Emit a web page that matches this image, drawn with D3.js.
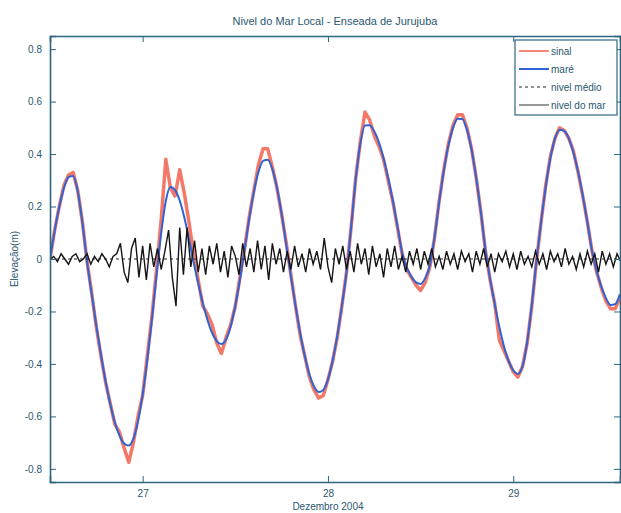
<!DOCTYPE html>
<html>
<head>
<meta charset="utf-8">
<script src="https://cdn.jsdelivr.net/npm/d3@7"></script>
<style>
    body { margin: 0; background: #ffffff; }
    svg { display: block; font-family: "Liberation Sans", Arial, sans-serif; }
</style>
</head>
<body>
<div id="wrapper"></div>
<script>

// both tide and signal are read on a 0.025 day grid starting at 26.5 (124 samples)
const gridStart = 26.5;
const gridStep = 0.025;

// maré (fitted tide)
const tideValues = [
    0.000, 0.106, 0.199, 0.270, 0.312, 0.316, 0.257, 0.138, -0.010, -0.134,
    -0.254, -0.365, -0.466, -0.553, -0.622, -0.673, -0.703, -0.711, -0.685, -0.619,
    -0.517, -0.385, -0.230, -0.062, 0.098, 0.221, 0.274, 0.263, 0.223, 0.158,
    0.076, -0.013, -0.094, -0.169, -0.233, -0.282, -0.313, -0.324, -0.307, -0.257,
    -0.177, -0.078, 0.034, 0.153, 0.255, 0.332, 0.374, 0.378, 0.342, 0.271,
    0.172, 0.054, -0.065, -0.178, -0.282, -0.370, -0.440, -0.486, -0.507, -0.499,
    -0.459, -0.389, -0.294, -0.179, -0.052, 0.121, 0.305, 0.441, 0.509, 0.510,
    0.487, 0.445, 0.384, 0.309, 0.222, 0.126, 0.025, -0.031, -0.067, -0.089,
    -0.095, -0.072, -0.023, 0.083, 0.216, 0.335, 0.432, 0.500, 0.535, 0.534,
    0.493, 0.417, 0.309, 0.179, 0.035, -0.076, -0.172, -0.259, -0.333, -0.389,
    -0.424, -0.438, -0.409, -0.317, -0.176, -0.007, 0.141, 0.274, 0.384, 0.459,
    0.493, 0.488, 0.459, 0.405, 0.332, 0.242, 0.140, 0.031, -0.046, -0.105,
    -0.149, -0.175, -0.172, -0.135];

// sinal (measured elevation)
const signalValues = [
    0.00, 0.11, 0.20, 0.28, 0.32, 0.33, 0.26, 0.14, -0.01, -0.13,
    -0.26, -0.37, -0.47, -0.55, -0.63, -0.66, -0.72, -0.775, -0.70, -0.60,
    -0.52, -0.37, -0.22, -0.04, 0.15, 0.38, 0.27, 0.24, 0.34, 0.25,
    0.14, 0.02, -0.08, -0.18, -0.21, -0.25, -0.32, -0.36, -0.30, -0.25,
    -0.18, -0.07, 0.04, 0.16, 0.26, 0.36, 0.42, 0.42, 0.35, 0.27,
    0.17, 0.06, -0.06, -0.18, -0.29, -0.37, -0.45, -0.50, -0.53, -0.52,
    -0.46, -0.39, -0.30, -0.18, -0.05, 0.12, 0.31, 0.45, 0.56, 0.53,
    0.47, 0.43, 0.38, 0.30, 0.22, 0.12, 0.02, -0.04, -0.07, -0.10,
    -0.12, -0.09, -0.03, 0.08, 0.22, 0.34, 0.44, 0.51, 0.55, 0.55,
    0.50, 0.42, 0.31, 0.18, 0.03, -0.08, -0.17, -0.31, -0.35, -0.39,
    -0.43, -0.45, -0.41, -0.32, -0.18, -0.01, 0.14, 0.28, 0.39, 0.46,
    0.50, 0.49, 0.46, 0.41, 0.33, 0.24, 0.14, 0.03, -0.05, -0.11,
    -0.16, -0.19, -0.19, -0.15];

// nivel do mar (residual), sampled every 0.02 day from 26.5
const residualStart = 26.5;
const residualStep = 0.02;
const residualValues = [
    0.00, 0.01, -0.01, 0.02, 0.00, -0.02, 0.01, 0.02, -0.01, 0.00,
    0.02, -0.02, 0.01, -0.01, 0.02, 0.00, -0.03, 0.01, 0.02, 0.06,
    -0.05, -0.09, 0.04, 0.08, -0.07, 0.05, -0.08, 0.06, -0.03, 0.04,
    -0.04, 0.03, 0.11, -0.07, -0.18, 0.12, -0.06, 0.12, -0.03, 0.07,
    -0.05, 0.04, -0.06, 0.05, -0.02, 0.06, -0.05, 0.03, -0.07, 0.05,
    0.01, -0.06, 0.06, -0.03, 0.04, -0.05, 0.07, -0.04, 0.05, -0.08,
    0.06, -0.02, 0.04, -0.05, 0.03, -0.04, 0.05, -0.03, 0.02, -0.05,
    0.04, -0.02, 0.03, -0.04, 0.08, -0.03, -0.09, 0.04, -0.02, 0.05,
    -0.04, 0.03, -0.05, 0.06, -0.02, 0.04, -0.06, 0.05, -0.03, 0.02,
    -0.07, 0.04, -0.03, 0.05, -0.04, 0.01, -0.05, 0.03, -0.02, 0.04,
    -0.04, 0.03, -0.02, 0.04, -0.03, 0.01, -0.04, 0.03, -0.02, 0.02,
    -0.04, 0.03, -0.01, 0.02, -0.05, 0.03, -0.02, 0.04, -0.03, 0.02,
    -0.05, 0.02, -0.01, 0.03, -0.03, 0.02, -0.04, 0.03, -0.02, 0.01,
    -0.03, 0.03, -0.02, 0.02, -0.04, 0.03, -0.01, 0.02, -0.03, 0.04,
    -0.02, 0.01, -0.04, 0.02, -0.03, 0.03, -0.02, 0.02, -0.05, 0.03,
    -0.02, 0.02, -0.03, 0.02, -0.01];

const xTicks = [27, 28, 29];
const yTicks = [-0.8, -0.6, -0.4, -0.2, 0, 0.2, 0.4, 0.6, 0.8];
const legendLabels = ["sinal", "maré", "nivel médio", "nivel do mar"];

let dimension = {
    width: 621,
    height: 513,
    margin: {
        top: 36,
        left: 50,
        bottom: 31,
        right: 1
    }
}
dimension.boundedWidth = dimension.width - dimension.margin.left - dimension.margin.right;
dimension.boundedHeight = dimension.height - dimension.margin.top - dimension.margin.bottom;

const axisColor = "#2e6680";
const textColor = "#2a5870";
const red = "#f2604e";
const blue = "#2f62d2";

function buildPlot() {
    const svg = d3.select("#wrapper").append("svg")
        .attr("width", dimension.width)
        .attr("height", dimension.height);

    const xScale = d3.scaleLinear()
        .domain([26.5, 29.576])
        .range([dimension.margin.left, dimension.margin.left + dimension.boundedWidth]);
    const yScale = d3.scaleLinear()
        .domain([-0.85, 0.85])
        .range([dimension.margin.top + dimension.boundedHeight, dimension.margin.top]);

    svg.append("clipPath").attr("id", "clip")
        .append("rect")
        .attr("x", dimension.margin.left)
        .attr("y", dimension.margin.top)
        .attr("width", dimension.boundedWidth)
        .attr("height", dimension.boundedHeight);

    const plot = svg.append("g").attr("clip-path", "url(#clip)");

    const gridTime = i => gridStart + i * gridStep;
    const signal = signalValues.map((v, i) => [gridTime(i), v]);
    const tide = tideValues.map((v, i) => [gridTime(i), v]);
    const residual = residualValues.map((v, i) => [residualStart + i * residualStep, v]);

    const rawLine = d3.line()
        .x(d => xScale(d[0]))
        .y(d => yScale(d[1]));
    const smoothLine = d3.line()
        .x(d => xScale(d[0]))
        .y(d => yScale(d[1]))
        .curve(d3.curveMonotoneX);

    plot.append("path")
        .datum(signal)
        .attr("fill", "none")
        .attr("stroke", red)
        .attr("stroke-opacity", 0.85)
        .attr("stroke-width", 3.5)
        .attr("stroke-linejoin", "round")
        .attr("d", rawLine);

    plot.append("path")
        .datum(tide)
        .attr("fill", "none")
        .attr("stroke", blue)
        .attr("stroke-width", 2)
        .attr("d", smoothLine);

    plot.append("line")
        .attr("x1", xScale(26.5))
        .attr("x2", xScale(29.576))
        .attr("y1", yScale(0))
        .attr("y2", yScale(0))
        .attr("stroke", "#222")
        .attr("stroke-width", 1)
        .attr("stroke-dasharray", "3,3");

    plot.append("path")
        .datum(residual)
        .attr("fill", "none")
        .attr("stroke", "#151515")
        .attr("stroke-width", 1.4)
        .attr("d", rawLine);

    // axes box with inward ticks, matlab style
    const fmtY = d => d === 0 ? "0" : d3.format(".1f")(d).replace("−", "-");
    const axisBottom = d3.axisBottom(xScale).tickValues(xTicks).tickSize(-6).tickPadding(8).tickFormat(d3.format("d"));
    const axisTop = d3.axisTop(xScale).tickValues(xTicks).tickSize(-6).tickFormat("");
    const axisLeft = d3.axisLeft(yScale).tickValues(yTicks).tickSize(-6).tickPadding(8).tickFormat(fmtY);
    const axisRight = d3.axisRight(yScale).tickValues(yTicks).tickSize(-6).tickFormat("");

    const gx = svg.append("g")
        .attr("transform", `translate(0,${dimension.margin.top + dimension.boundedHeight})`)
        .call(axisBottom);
    const gxt = svg.append("g")
        .attr("transform", `translate(0,${dimension.margin.top})`)
        .call(axisTop);
    const gy = svg.append("g")
        .attr("transform", `translate(${dimension.margin.left},0)`)
        .call(axisLeft);
    const gyr = svg.append("g")
        .attr("transform", `translate(${dimension.margin.left + dimension.boundedWidth},0)`)
        .call(axisRight);

    [gx, gxt, gy, gyr].forEach(g => {
        g.select(".domain").attr("stroke", axisColor).attr("stroke-width", 1.6);
        g.selectAll(".tick line").attr("stroke", axisColor).attr("stroke-width", 1);
        g.selectAll("text").attr("fill", textColor).style("font-size", "10px");
    });

    svg.append("text")
        .attr("x", dimension.margin.left + dimension.boundedWidth / 2)
        .attr("y", 25)
        .attr("text-anchor", "middle")
        .attr("fill", textColor)
        .style("font-size", "11px")
        .text("Nivel do Mar Local - Enseada de Jurujuba");

    svg.append("text")
        .attr("x", xScale(28))
        .attr("y", 510)
        .attr("text-anchor", "middle")
        .attr("fill", textColor)
        .style("font-size", "10px")
        .text("Dezembro 2004");

    svg.append("text")
        .attr("transform", `translate(18,${yScale(0)}) rotate(-90)`)
        .attr("text-anchor", "middle")
        .attr("fill", textColor)
        .style("font-size", "10px")
        .text("Elevação(m)");

    // legend
    const legend = svg.append("g").attr("transform", "translate(515,40)");
    legend.append("rect")
        .attr("width", 102)
        .attr("height", 75)
        .attr("fill", "#ffffff")
        .attr("stroke", axisColor)
        .attr("stroke-width", 1.2);

    const legendStyles = [
        { stroke: red, width: 1.5, dash: null },
        { stroke: blue, width: 2, dash: null },
        { stroke: "#222", width: 1, dash: "3,3" },
        { stroke: "#333", width: 1, dash: null }
    ];

    const items = legend.selectAll("g.item")
        .data(legendLabels)
        .enter()
        .append("g")
        .attr("class", "item")
        .attr("transform", (d, i) => `translate(0,${11 + i * 18})`);

    items.append("line")
        .attr("x1", 4)
        .attr("x2", 34)
        .attr("stroke", (d, i) => legendStyles[i].stroke)
        .attr("stroke-width", (d, i) => legendStyles[i].width)
        .attr("stroke-dasharray", (d, i) => legendStyles[i].dash);

    items.append("text")
        .attr("x", 36)
        .attr("dy", "0.35em")
        .attr("fill", textColor)
        .style("font-size", "10px")
        .text(d => d);
}

buildPlot()

</script>
</body>
</html>
